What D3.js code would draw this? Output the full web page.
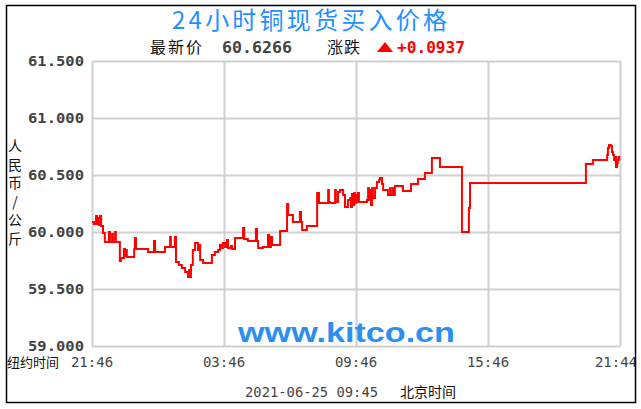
<!DOCTYPE html>
<html><head><meta charset="utf-8">
<script src="https://cdn.jsdelivr.net/npm/d3@7"></script>
<style>html,body{margin:0;padding:0;background:#fff;}svg{display:block;}</style>
</head><body>
<script>
// ---- data ----
const titleText = "24小时铜现货买入价格";
const latestLabel = "最新价";
const latestValue = "60.6266";
const changeLabel = "涨跌";
const changeValue = "+0.0937";
const yTicks = [59.0, 59.5, 60.0, 60.5, 61.0, 61.5];
const xTickMinutes = [0, 360, 720, 1080, 1440];
const xTickLabels = ["21:46", "03:46", "09:46", "15:46", "21:44"];
const xAxisName = "纽约时间";
const yAxisName = ["人", "民", "币", "/", "公", "斤"];
const footerDate = "2021-06-25 09:45";
const footerZone = "北京时间";
const watermark = "www.kitco.cn";
// minutes after 21:46 (New York time)
const minutes = [0,5,11,14,16,19,22,25,30,35,46,49,55,57,63,65,76,79,87,90,93,95,115,117,120,153,169,172,199,213,215,226,229,237,245,254,262,265,267,270,275,281,289,292,295,303,327,335,344,349,355,357,363,368,371,379,382,390,409,412,415,425,447,450,453,466,480,483,488,491,513,532,535,548,567,570,573,586,614,619,644,646,649,663,665,671,676,685,690,698,704,706,709,712,715,717,720,723,725,728,750,753,755,758,761,764,766,772,777,783,785,791,794,807,813,815,821,824,826,848,870,889,908,927,949,1009,1028,1031,1347,1366,1405,1407,1410,1415,1418,1421,1424,1426,1429,1432,1434,1436,1438];
// price, yuan per kg
const prices = [60.088,60.070,60.140,60.070,60.123,60.061,60.140,60.053,59.991,59.912,60.000,59.912,59.982,59.912,60.000,59.912,59.746,59.772,59.851,59.789,59.842,59.781,59.851,59.947,59.851,59.825,59.921,59.825,59.868,59.956,59.868,59.956,59.737,59.711,59.684,59.649,59.605,59.667,59.605,59.711,59.842,59.904,59.842,59.886,59.754,59.728,59.798,59.825,59.842,59.886,59.860,59.904,59.868,59.930,59.860,59.877,59.851,59.947,59.947,60.035,59.939,59.921,60.026,59.921,59.860,59.868,59.974,59.868,59.956,59.886,60.009,60.246,60.149,60.088,60.175,60.088,60.018,60.053,60.342,60.254,60.368,60.263,60.254,60.368,60.263,60.351,60.368,60.325,60.219,60.281,60.298,60.219,60.333,60.237,60.342,60.254,60.325,60.263,60.342,60.263,60.281,60.386,60.281,60.368,60.237,60.386,60.298,60.386,60.439,60.456,60.474,60.421,60.368,60.325,60.386,60.325,60.386,60.325,60.404,60.360,60.421,60.465,60.518,60.649,60.570,60.000,60.211,60.430,60.596,60.632,60.675,60.737,60.763,60.754,60.702,60.675,60.632,60.658,60.570,60.605,60.632,60.658,60.6266];

// ---- drawing ----
const W = 641, H = 409;
const svg = d3.select("body").append("svg").attr("width", W).attr("height", H);
const frame = {x: 6, y: 5, w: 630, h: 398};
svg.append("clipPath").attr("id", "frameclip").append("rect")
  .attr("x", frame.x).attr("y", frame.y).attr("width", frame.w).attr("height", frame.h);
const root = svg.append("g").attr("clip-path", "url(#frameclip)");

const plot = {left: 92, right: 620, top: 61, bottom: 346};
const x = d3.scaleLinear().domain([0, 1440]).range([plot.left, plot.right]);
const y = d3.scaleLinear().domain([59, 61.5]).range([plot.bottom, plot.top]);

const MONO = "'DejaVu Sans Mono','Liberation Mono',monospace";
const CJK = "'Noto Sans CJK SC','Noto Sans',sans-serif";

// grid
const gx = root.append("g").attr("transform", `translate(0,${plot.bottom})`)
  .call(d3.axisBottom(x).tickValues(xTickMinutes).tickSize(-(plot.bottom - plot.top)).tickFormat(""));
const gy = root.append("g").attr("transform", `translate(${plot.left},0)`)
  .call(d3.axisLeft(y).tickValues(yTicks).tickSize(-(plot.right - plot.left)).tickFormat(""));
[gx, gy].forEach(g => {
  g.select(".domain").remove();
  g.selectAll("line").attr("stroke", "#d0d0d0").attr("stroke-width", 2);
});

// watermark
root.append("text").attr("x", 238).attr("y", 342)
  .attr("font-family", "Arial,'Liberation Sans',sans-serif").attr("font-weight", "bold")
  .attr("font-size", 27).attr("fill", "#2b8ff0")
  .attr("textLength", 217).attr("lengthAdjust", "spacingAndGlyphs")
  .text(watermark);

// line
const data = minutes.map((m, i) => ({m, v: prices[i]}));
root.append("path").datum(data)
  .attr("fill", "none").attr("stroke", "#ff0000").attr("stroke-width", 2)
  .attr("stroke-linejoin", "miter")
  .attr("d", d3.line().x(d => x(d.m)).y(d => y(d.v)).curve(d3.curveStepAfter));

// y tick labels
root.selectAll(".ylab").data(yTicks).enter().append("text")
  .attr("x", 84).attr("y", d => y(d) + 5)
  .attr("text-anchor", "end").attr("font-family", MONO).attr("font-weight", "bold")
  .attr("font-size", 14).attr("fill", "#444")
  .attr("textLength", 56).attr("lengthAdjust", "spacingAndGlyphs")
  .text(d => d3.format(".3f")(d));

// x tick labels
const lastIdx = xTickMinutes.length - 1;
root.selectAll(".xlab").data(xTickMinutes).enter().append("text")
  .attr("x", (d, i) => x(d) - (i === lastIdx ? 4 : 0)).attr("y", 367)
  .attr("text-anchor", "middle").attr("font-family", MONO)
  .attr("font-size", 14).attr("fill", "#444")
  .text((d, i) => xTickLabels[i]);
root.append("text").attr("x", 7).attr("y", 367)
  .attr("font-family", CJK).attr("font-size", 13).attr("fill", "#111")
  .attr("textLength", 52).text(xAxisName);

// y axis name (vertical)
root.selectAll(".yname").data(yAxisName).enter().append("text")
  .attr("x", 15).attr("y", (d, i) => 151 + i * 18.5)
  .attr("text-anchor", "middle").attr("font-family", CJK).attr("font-size", 14).attr("fill", "#111")
  .text(d => d);

// title
root.append("text").attr("x", 172).attr("y", 29)
  .attr("font-family", CJK).attr("font-size", 24).attr("fill", "#1e90ff")
  .attr("textLength", 275).attr("lengthAdjust", "spacing")
  .text(titleText);

// subtitle
const sub = root.append("g");
sub.append("text").attr("x", 150).attr("y", 53).attr("font-family", CJK).attr("font-size", 16).attr("fill", "#111")
  .attr("textLength", 52).text(latestLabel);
sub.append("text").attr("x", 222).attr("y", 53).attr("font-family", MONO).attr("font-weight", "bold")
  .attr("font-size", 15).attr("fill", "#444").attr("textLength", 70).attr("lengthAdjust", "spacingAndGlyphs").text(latestValue);
sub.append("text").attr("x", 327).attr("y", 53).attr("font-family", CJK).attr("font-size", 16).attr("fill", "#111")
  .attr("textLength", 33).text(changeLabel);
sub.append("path").attr("d", "M377,52 L385,42 L393,52 Z").attr("fill", "#ff0000");
sub.append("text").attr("x", 397).attr("y", 53).attr("font-family", MONO).attr("font-weight", "bold")
  .attr("font-size", 15).attr("fill", "#ff0000").attr("textLength", 68).attr("lengthAdjust", "spacingAndGlyphs").text(changeValue);

// footer
root.append("text").attr("x", 245).attr("y", 397).attr("font-family", MONO).attr("font-size", 14).attr("fill", "#444")
  .attr("textLength", 133).attr("lengthAdjust", "spacingAndGlyphs").text(footerDate);
root.append("text").attr("x", 400).attr("y", 397).attr("font-family", CJK).attr("font-size", 14).attr("fill", "#111")
  .text(footerZone);

// outer frame
svg.append("rect").attr("x", frame.x + 0.5).attr("y", frame.y + 0.5)
  .attr("width", frame.w - 1).attr("height", frame.h - 1)
  .attr("fill", "none").attr("stroke", "#000").attr("stroke-width", 1.5);
</script>
</body></html>
